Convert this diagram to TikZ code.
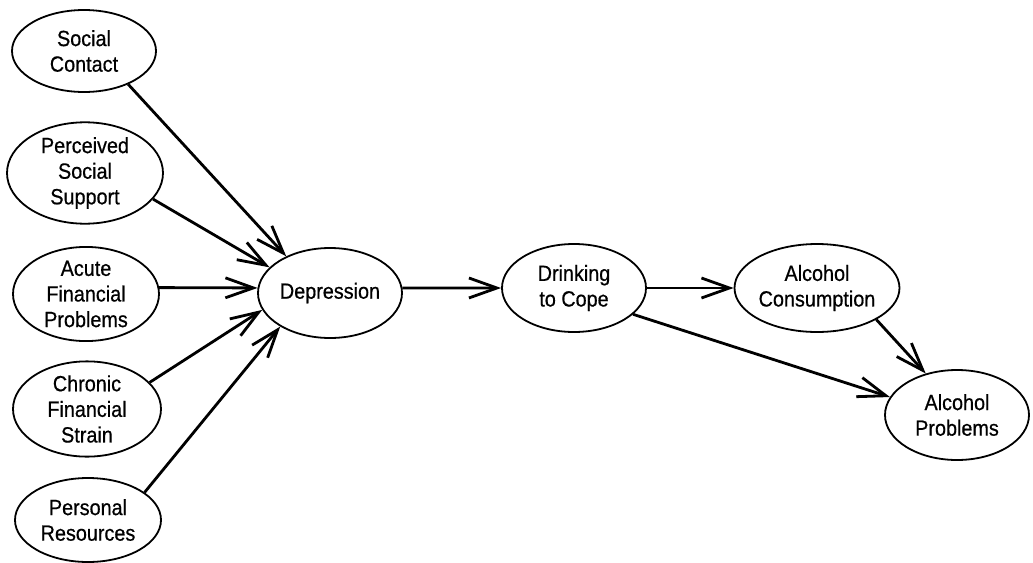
\documentclass[tikz,border=0pt]{standalone}
\usepackage{fontspec}
\setmainfont{Liberation Sans}[FakeStretch=0.9,FakeBold=0.6]
\usetikzlibrary{shapes.geometric,arrows.meta}
\tikzset{
  var/.style={ellipse, draw, line width=0.9pt, inner sep=0pt, align=center,
    font=\fontsize{11}{12.8}\selectfont},
  path/.style={line width=1.4pt, -{Straight Barb[length=14pt,width=10pt,line width=1.4pt]}}
}
\begin{document}
\begin{tikzpicture}[x=0.5pt,y=-0.5pt]
\useasboundingbox (0,0) rectangle (1033,562);
\node[var, minimum width=72pt, minimum height=41pt] (soc) at (84,51) {Social\\Contact};
\node[var, minimum width=78pt, minimum height=48pt] (per) at (85,173) {Perceived\\Social\\Support};
\node[var, minimum width=73pt, minimum height=46pt] (acu) at (86,294) {Acute\\Financial\\Problems};
\node[var, minimum width=74pt, minimum height=46pt] (chr) at (87,409) {Chronic\\Financial\\Strain};
\node[var, minimum width=73pt, minimum height=42pt] (pers) at (88,520) {Personal\\Resources};
\node[var, minimum width=72pt, minimum height=45pt] (dep) at (330,293) {Depression};
\node[var, minimum width=72pt, minimum height=44pt] (dri) at (574,288) {Drinking\\to Cope};
\node[var, minimum width=72pt, minimum height=44pt] (con) at (817,288) {Alcohol\\Consumption};
\node[var, minimum width=72pt, minimum height=45pt] (pro) at (957,415) {Alcohol\\Problems};
\draw[path] (soc.-37) -- (dep.140);
\draw[path] (per.-21) -- (dep.157);
\draw[path] (acu.5) -- (dep.176);
\draw[path] (chr.23) -- (dep.-166);
\draw[path] (pers.26) -- (dep.-146);
\draw[path] (dep.4) -- (dri.west);
\draw[path] (dri.east) -- (con.west);
\draw[path] (dri.-24) -- (pro.165);
\draw[path] (con.-28) -- (pro.127);
\end{tikzpicture}
\end{document}
